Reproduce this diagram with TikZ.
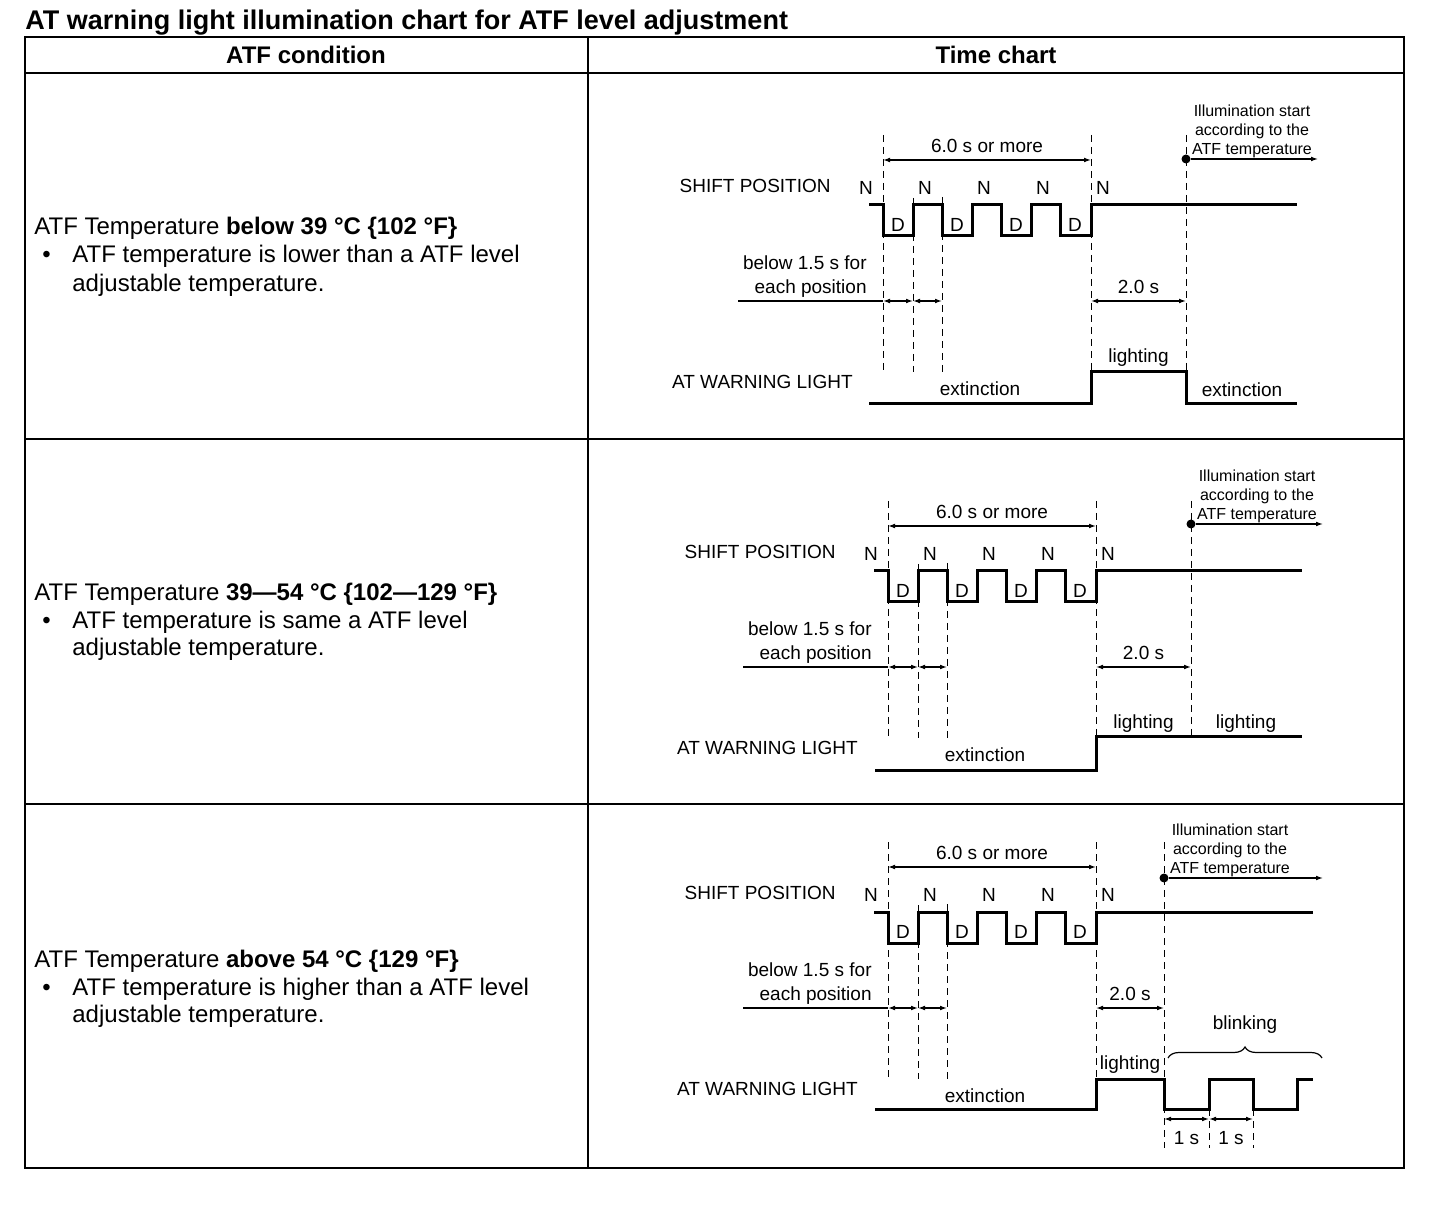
\documentclass[tikz,border=0pt]{standalone}
\usepackage{fontspec}
\setmainfont{Liberation Sans}
\usetikzlibrary{arrows.meta, decorations.pathreplacing}

\newcommand{\chartsize}{\fontsize{9.5}{12}\selectfont}
\newcommand{\notesize}{\fontsize{8}{9.5}\selectfont}
\newcommand{\condsize}{\fontsize{12}{14}\selectfont}

\begin{document}
\begin{tikzpicture}[x=0.5pt, y=-0.5pt,
    frame/.style={line width=1.1pt},
    wave/.style={line width=1.5pt, line join=miter},
    guide/.style={line width=0.5pt, dash pattern=on 3.5pt off 2.5pt},
    dim/.style={{Latex[length=3.5pt,width=2.4pt]}-{Latex[length=3.5pt,width=2.4pt]}, line width=0.6pt},
    ray/.style={-{Latex[length=3.5pt,width=2.4pt]}, line width=0.6pt},
    lbl/.style={font=\chartsize, inner sep=1pt},
    note/.style={font=\notesize, align=center, inner sep=0pt},
    cond/.style={font=\condsize, anchor=base west, inner sep=0pt},
    head/.style={font=\condsize\bfseries}
  ]
  \useasboundingbox (0,0) rectangle (1456,1218);

  % title and table
  \node[font=\fontsize{13.5}{16}\selectfont\bfseries, anchor=base west, inner sep=0pt] (title) at (25,30)
    {AT warning light illumination chart for ATF level adjustment};
  \draw[frame] (25,37) rectangle (1404,1168);
  \draw[frame] (25,73) -- (1404,73);
  \draw[frame] (25,439) -- (1404,439) (25,804) -- (1404,804);
  \draw[frame] (588,37) -- (588,1168);
  \node[head] (hcond) at (306,55) {ATF condition};
  \node[head] (hchart) at (996,55) {Time chart};

  % ATF conditions
  \node[cond] (cond1) at (34,235) {ATF Temperature \textbf{below 39 °C \{102 °F\}}};
  \node[cond] (bul1) at (42,263) {\textbullet};
  \node[cond] (cond1a) at (72,263) {ATF temperature is lower than a ATF level};
  \node[cond] (cond1b) at (72,292) {adjustable temperature.};

  \node[cond] (cond2) at (34,601) {ATF Temperature \textbf{39—54 °C \{102—129 °F\}}};
  \node[cond] (bul2) at (42,629) {\textbullet};
  \node[cond] (cond2a) at (72,629) {ATF temperature is same a ATF level};
  \node[cond] (cond2b) at (72,656) {adjustable temperature.};

  \node[cond] (cond3) at (34,967) {ATF Temperature \textbf{above 54 °C \{129 °F\}}};
  \node[cond] (bul3) at (42,995) {\textbullet};
  \node[cond] (cond3a) at (72,995) {ATF temperature is higher than a ATF level};
  \node[cond] (cond3b) at (72,1022) {adjustable temperature.};

  % common part of the three time charts
  \foreach \r/\ox/\oy/\se/\il/\ib/\dy in {1/883/205/414/303/167/-46, 2/888/571/414/303/166/-47, 3/888/912/425/276/236/-34} {
    \begin{scope}[shift={(\ox,\oy)}]
      \draw[guide] (0,-70) -- (0,167);
      \draw[guide] (30,-7) -- (30,167);
      \draw[guide] (59,-8) -- (59,167);
      \draw[guide] (208,-70) -- (208,167);
      \draw[guide] (\il,-70) -- (\il,\ib);

      % shift position N/D
      \draw[wave] (-14,0) -| (0,31) -| (30,0) -| (59,31) -| (89,0) -| (118,31) -| (148,0) -| (177,31) -| (208,0) -- (\se,0);
      \foreach \nx [count=\i] in {-17,42,101,160,220}
        \node[lbl] (c\r-n\i) at (\nx,-17) {N};
      \foreach \dx [count=\i] in {15,74,133,192}
        \node[lbl] (c\r-d\i) at (\dx,20) {D};
      \node[lbl, anchor=east] (c\r-shift) at (-50,-19) {SHIFT POSITION};
      \node[lbl, anchor=east] (c\r-light) at (-28,177) {AT WARNING LIGHT};

      \coordinate (c\r-w0) at (0,-45);
      \coordinate (c\r-w1) at (208,-45);
      \draw[dim] (c\r-w0) -- node[lbl, above=2.5pt] (c\r-six) {6.0 s or more} (c\r-w1);

      \coordinate (c\r-base) at (-145,96);
      \coordinate (c\r-p0) at (0,96);
      \coordinate (c\r-p1) at (30,96);
      \coordinate (c\r-p2) at (59,96);
      \draw[line width=0.6pt] (c\r-base) -- (c\r-p0);
      \draw[dim] (c\r-p0) -- (c\r-p1);
      \draw[dim] (c\r-p1) -- (c\r-p2);
      \node[lbl, align=right, anchor=east] (c\r-below) at (-14,72) {below 1.5 s for\\each position};

      \coordinate (c\r-q0) at (208,96);
      \coordinate (c\r-q1) at (\il,96);
      \draw[dim] (c\r-q0) -- node[lbl, above=2.5pt] (c\r-two) {2.0 s} (c\r-q1);

      \node[circle, fill, inner sep=0pt, minimum size=4.5pt] (c\r-dot) at (\il,\dy) {};
      \coordinate (c\r-far) at (435,\dy);
      \draw[ray] (c\r-dot) -- (c\r-far);
      \node[note, anchor=south] (c\r-ill) at ({\il+66},{\dy-1}) {Illumination start\\according to the\\ATF temperature};

      \node[lbl] (c\r-off) at (97,184) {extinction};
      \node[lbl] (c\r-on) at ({(208+\il)/2},153) {lighting};
    \end{scope}
  }

  % below 39 C
  \begin{scope}[shift={(883,205)}]
    \draw[wave] (-14,199) -| (208,167) -| (303,199) -- (414,199);
    \node[lbl] (c1-off2) at (359,185) {extinction};
  \end{scope}

  % 39-54 C
  \begin{scope}[shift={(888,571)}]
    \draw[wave] (-13,199) -| (208,166) -- (414,166);
    \node[lbl] (c2-on2) at (358,153) {lighting};
  \end{scope}

  % above 54 C
  \begin{scope}[shift={(888,912)}]
    \draw[wave] (-13,197) -| (208,167) -| (276,197) -| (321,167) -| (365,197) -| (409,167) -- (425,167);
    \draw[guide] (321,197) -- (321,236);
    \draw[guide] (365,197) -- (365,236);
    \coordinate (c3-b0) at (276,207);
    \coordinate (c3-b1) at (321,207);
    \coordinate (c3-b2) at (365,207);
    \draw[dim] (c3-b0) -- node[lbl, below=5pt] (c3-s1) {1 s} (c3-b1);
    \draw[dim] (c3-b1) -- node[lbl, below=5pt] (c3-s2) {1 s} (c3-b2);
    \coordinate (c3-k0) at (280,146);
    \coordinate (c3-k1) at (434,146);
    \draw[decorate, decoration={brace, amplitude=5.5pt}, line width=0.6pt] (c3-k0) -- node[lbl, above=11pt] (c3-blink) {blinking} (c3-k1);
  \end{scope}
\end{tikzpicture}
\end{document}
